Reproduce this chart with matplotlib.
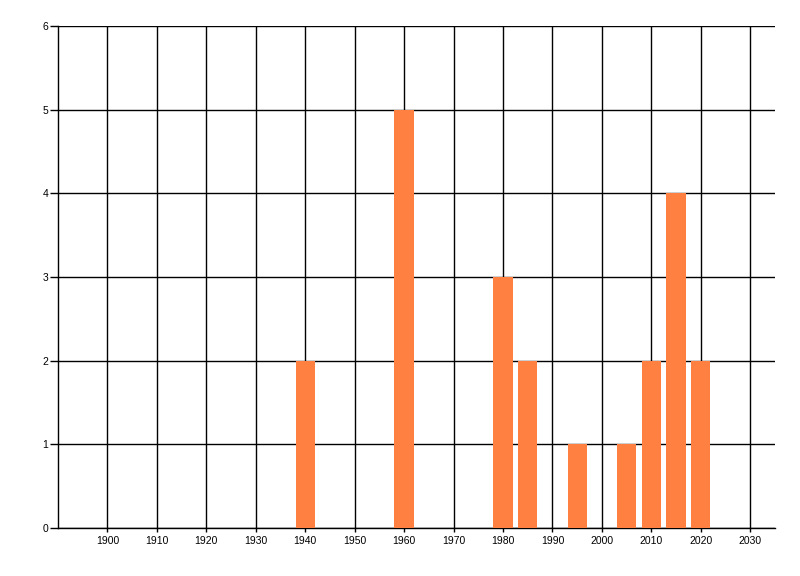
import matplotlib
matplotlib.use("Agg")
import matplotlib.pyplot as plt

# 年份与对应数量
years = [1940, 1960, 1980, 1985, 1995, 2005, 2010, 2015, 2020]
counts = [2, 5, 3, 2, 1, 1, 2, 4, 2]

x_ticks = list(range(1900, 2031, 10))
y_ticks = list(range(0, 7))

plt.rcParams['font.family'] = ['Liberation Sans', 'DejaVu Sans']

fig = plt.figure(figsize=(8, 5.76), dpi=100)
ax = fig.add_axes([58 / 800, 1 - 528 / 576, (775 - 58) / 800, (528 - 26) / 576])

ax.bar(years, counts, width=3.9, color='#FF8040', zorder=3)

ax.set_xlim(1890, 2035)
ax.set_ylim(0, 6)
ax.set_xticks(x_ticks)
ax.set_yticks(y_ticks)

ax.grid(True, color='black', linewidth=1.0, zorder=1)
ax.set_axisbelow(True)

for side in ['top', 'right']:
    ax.spines[side].set_visible(False)
for side in ['left', 'bottom']:
    ax.spines[side].set_color('black')
    ax.spines[side].set_linewidth(1.0)

ax.tick_params(axis='x', length=3, width=1, pad=3, labelsize=7.5, colors='black')
ax.tick_params(axis='y', length=6, width=1, pad=1, labelsize=7.5, colors='black')

fig.savefig('out.png', dpi=100)
